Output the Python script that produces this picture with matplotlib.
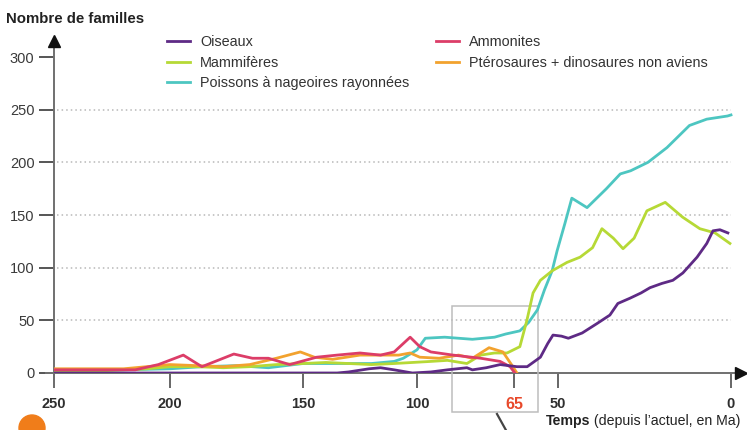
import matplotlib
matplotlib.use('Agg')
import matplotlib.pyplot as plt
import numpy as np
from matplotlib.patches import Rectangle, Circle
from matplotlib.lines import Line2D

# time in Ma (millions of years before present) and number of families
oiseaux_ma = [250, 200, 150, 135, 130, 121, 116, 110, 102, 95, 89, 82, 80, 75, 70, 64, 60.5, 56,
              53.5, 51.7, 49, 47, 43, 38.7, 35, 32.7, 29.2, 26, 23.4, 20, 16.8, 13.9, 9.8, 7, 5.2, 3.2, 0.9]
oiseaux = [0, 0, 0, 0, 1, 4, 5, 3, 0, 1, 3, 5, 3, 5, 8, 6, 6, 15,
           28, 36, 35, 33, 38, 47, 55, 66, 71, 76, 81, 85, 88, 95, 110, 123, 135, 136, 133]

mammiferes_ma = [250, 230, 210, 200, 190, 180, 170, 160, 150, 140, 130, 120, 110, 102, 95, 89, 82, 77,
                 72, 67.5, 63, 60.6, 58.5, 56, 52, 47.4, 43.6, 40, 37.3, 34, 31.2, 28, 24.3, 19, 14, 9, 4.6, 0.3]
mammiferes = [1, 2, 4, 6, 6, 5, 6, 8, 9, 10, 9, 8, 9, 10, 11, 12, 9, 17,
              19, 19, 25, 50, 76, 88, 97, 105, 110, 119, 137, 128, 118, 128, 154, 162, 148, 137, 133, 123]

poissons_ma = [250, 220, 200, 188, 175, 163, 150, 140, 130, 120, 110, 106, 100, 97, 90, 80, 72, 68,
               63, 60, 57, 54.6, 52, 50.3, 48, 46, 41.6, 36, 32, 29, 24, 18.5, 12, 7, 1, 0]
poissons = [2, 3, 4, 6, 7, 5, 9, 9, 9, 9, 11, 14, 22, 33, 34, 32, 34, 37,
            40, 48, 60, 79, 97, 116, 142, 166, 157, 175, 189, 192, 200, 214, 235, 241, 244, 245]

ammonites_ma = [250, 230, 215, 205, 195, 188, 176, 169, 163, 155, 144, 135, 125, 116, 110, 103, 99, 95,
                87, 77, 70, 66.4, 64.7]
ammonites = [3, 3, 3, 8, 17, 6, 18, 14, 14, 8, 15, 17, 19, 17, 20, 34, 25, 20,
             17, 14, 11, 6, 0]

pterosaures_ma = [250, 230, 220, 210, 200, 190, 180, 170, 160, 151, 145, 137, 125, 116, 108, 103, 99, 92,
                  85, 80, 74, 69, 65.4, 64]
pterosaures = [4, 4, 4, 6, 8, 7, 6, 8, 14, 20, 15, 13, 17, 17, 17, 19, 15, 14,
               17, 14, 24, 20, 6, 0]

x_ticks = [250, 200, 150, 100, 65, 50, 0]

# the original time axis is not evenly spaced: piecewise-linear scale through the tick positions
ma_knots = np.array([-10, 0, 50, 65, 100, 150, 200, 250, 260])
px_knots = np.array([765.6, 731, 558, 514, 417, 303, 170, 54, 30.8])


def fwd(v):
    return np.interp(v, ma_knots, -px_knots)


def inv(v):
    return np.interp(v, -px_knots, ma_knots)


plt.rcParams['font.family'] = ['Liberation Sans', 'DejaVu Sans']

W, H = 747, 430
fig = plt.figure(figsize=(W / 100, H / 100), dpi=100)
ax = fig.add_axes([54 / W, (H - 373) / H, (746 - 54) / W, (373 - 35) / H])
ax.set_xscale('function', functions=(fwd, inv))
ax.set_xlim(250, -4.34)
ax.set_ylim(0, 320.9)
for s in ax.spines.values():
    s.set_visible(False)

# dotted grid
ax.hlines([50, 100, 150, 200, 250], 248.5, 0, colors='#b8b8b8', linestyles=(0, (1, 2)), lw=1.1)

lw = 2.0
ax.plot(poissons_ma, poissons, color='#4dc6c1', lw=lw, label='Poissons à nageoires rayonnées', zorder=3)
ax.plot(mammiferes_ma, mammiferes, color='#b6d936', lw=lw, label='Mammifères', zorder=3)
ax.plot(pterosaures_ma, pterosaures, color='#f2a22e', lw=lw, label='Ptérosaures + dinosaures non aviens', zorder=3)
ax.plot(ammonites_ma, ammonites, color='#dc3d68', lw=lw, label='Ammonites', zorder=3)
ax.plot(oiseaux_ma, oiseaux, color='#5e2a85', lw=lw, label='Oiseaux', zorder=4)

# axes with arrows
ax.plot([250, 250], [-13, 316], color='#707070', lw=1.4, clip_on=False, zorder=2)
ax.plot([253.5, -3], [0, 0], color='#707070', lw=1.4, clip_on=False, zorder=2)
ax.plot([250], [315], marker='^', ms=9, color='#111111', clip_on=False, zorder=5)
ax.plot([-3.0], [0], marker='>', ms=9, color='#111111', clip_on=False, zorder=5)

ax.set_yticks([0, 50, 100, 150, 200, 250, 300])
ax.tick_params(axis='y', direction='out', length=11, width=1.4, color='#555555',
               labelsize=10.5, labelcolor='#3a3a3a', pad=3)
ax.set_xticks(x_ticks)
ax.set_xticklabels([str(t) for t in x_ticks])
ax.tick_params(axis='x', direction='out', length=11, width=1.4, color='#666666',
               labelsize=10.5, labelcolor='#2e2e2e', pad=6)
for lab in ax.get_xticklabels():
    lab.set_fontweight('bold')
    if lab.get_text() == '65':
        lab.set_color('#e8492b')
        lab.set_fontsize(11.5)

# grey zoom box around the extinction
ax.add_patch(Rectangle((56.8, -37), 87.4 - 56.8, 100.4, fill=False, edgecolor='#bdbdbd',
                       lw=1.1, clip_on=False, zorder=2))
fig.add_artist(Line2D([497 / W, 507 / W], [1 - 414 / H, 1 - 432 / H], transform=fig.transFigure,
                      color='#444444', lw=1.6))
fig.add_artist(Circle((0.32, 0.02), 0.13, transform=fig.dpi_scale_trans, color='#f07d1a'))

# legends
h, l = ax.get_legend_handles_labels()
hd = dict(zip(l, h))
leg_kw = dict(loc='upper left', frameon=False, borderpad=0, borderaxespad=0, handlelength=1.6,
              handletextpad=0.7, labelspacing=0.45, prop={'size': 10.4},
              labelcolor='#333333')
leg1 = fig.legend([hd['Oiseaux'], hd['Mammifères'], hd['Poissons à nageoires rayonnées']],
                  ['Oiseaux', 'Mammifères', 'Poissons à nageoires rayonnées'],
                  bbox_to_anchor=(167 / W, 1 - 35.5 / H), **leg_kw)
leg2 = fig.legend([hd['Ammonites'], hd['Ptérosaures + dinosaures non aviens']],
                  ['Ammonites', 'Ptérosaures + dinosaures non aviens'],
                  bbox_to_anchor=(436 / W, 1 - 35.5 / H), **leg_kw)

fig.text(6 / W, 1 - 19 / H, 'Nombre de familles', fontweight='bold', fontsize=10.8,
         color='#222222', va='center', ha='left')
t1 = fig.text(546 / W, 1 - 421 / H, 'Temps', fontweight='bold', fontsize=10.2,
              color='#222222', va='center', ha='left')
ax.annotate(' (depuis l’actuel, en Ma)', xy=(1, 0.5), xycoords=t1, va='center', ha='left',
            fontsize=10.2, color='#222222', annotation_clip=False)

fig.savefig('out.png', dpi=100)
